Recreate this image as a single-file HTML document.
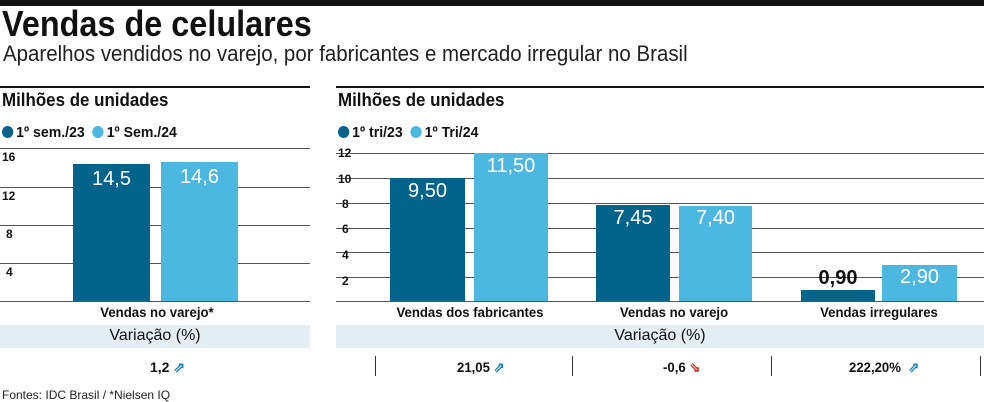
<!DOCTYPE html>
<html><head><meta charset="utf-8"><style>
body{margin:0;width:984px;height:402px;background:#fff;position:relative;overflow:hidden;font-family:"Liberation Sans",sans-serif;color:#111}
.a{position:absolute;white-space:nowrap}
.s{transform:scaleX(0.94);transform-origin:left top}
.c{transform:scaleX(0.94);transform-origin:center top}
.g{position:absolute;height:1px;background:#555}
.b{position:absolute}
.d{background:#03638b}.l{background:#4cb8e0}
.v{color:#fff;font-size:20px;text-align:center}
.t{font-size:12px;font-weight:bold}
.dot{display:inline-block;width:12px;height:12px;border-radius:50%;vertical-align:-1px;margin-right:3px}
.sep{position:absolute;width:1px;height:20px;background:#333;top:356px}
.up{color:#1a8ab8;font-weight:bold}.dn{color:#d9342b;font-weight:bold}
</style></head><body>
<div class="b" style="left:0;top:0;width:984px;height:6px;background:#111"></div>
<div class="a" style="left:2px;top:3px;font-size:36px;font-weight:bold;transform:scaleX(0.9);transform-origin:left top">Vendas de celulares</div>
<div class="a" style="left:3px;top:41px;font-size:22px;color:#222;transform:scaleX(0.93);transform-origin:left top">Aparelhos vendidos no varejo, por fabricantes e mercado irregular no Brasil</div>

<div class="b" style="left:0;top:86px;width:310px;height:2px;background:#111"></div>
<div class="b" style="left:336px;top:86px;width:648px;height:2px;background:#111"></div>
<div class="a s" style="left:2px;top:90px;font-size:18px;font-weight:bold">Milhões de unidades</div>
<div class="a s" style="left:338px;top:90px;font-size:18px;font-weight:bold">Milhões de unidades</div>
<div class="a s" style="left:2px;top:124px;font-size:15px;font-weight:bold"><span class="dot d"></span>1º sem./23 &nbsp;<span class="dot l"></span>1º Sem./24</div>
<div class="a s" style="left:338px;top:124px;font-size:15px;font-weight:bold"><span class="dot d"></span>1º tri/23 &nbsp;<span class="dot l"></span>1º Tri/24</div>

<div class="g" style="left:0;width:310px;top:148px"></div>
<div class="g" style="left:0;width:310px;top:187px"></div>
<div class="g" style="left:0;width:310px;top:225px"></div>
<div class="g" style="left:0;width:310px;top:263px"></div>
<div class="g" style="left:0;width:310px;top:301px"></div>
<div class="a t" style="left:2px;top:150px">16</div>
<div class="a t" style="left:2px;top:189px">12</div>
<div class="a t" style="left:6px;top:227px">8</div>
<div class="a t" style="left:6px;top:265px">4</div>
<div class="b d v" style="left:73px;top:164px;width:77px;height:137px;line-height:30px">14,5</div>
<div class="b l v" style="left:161px;top:162px;width:77px;height:139px;line-height:30px">14,6</div>
<div class="a c" style="left:52px;width:210px;text-align:center;top:304px;font-size:14px;font-weight:bold">Vendas no varejo*</div>
<div class="b" style="left:0;top:325px;width:310px;height:23px;background:#e4eef5"></div>
<div class="a" style="left:0;width:310px;text-align:center;top:327px;font-size:16px">Variação (%)</div>
<div class="a" style="left:150px;top:359px;font-size:14px;font-weight:bold">1,2 <span class="up">⇗</span></div>

<div class="g" style="left:336px;width:648px;top:153px"></div>
<div class="g" style="left:336px;width:648px;top:178px"></div>
<div class="g" style="left:336px;width:648px;top:203px"></div>
<div class="g" style="left:336px;width:648px;top:228px"></div>
<div class="g" style="left:336px;width:648px;top:252px"></div>
<div class="g" style="left:336px;width:648px;top:277px"></div>
<div class="g" style="left:336px;width:648px;top:301px"></div>
<div class="a t" style="left:338px;top:146px">12</div>
<div class="a t" style="left:338px;top:172px">10</div>
<div class="a t" style="left:342px;top:197px">8</div>
<div class="a t" style="left:342px;top:222px">6</div>
<div class="a t" style="left:342px;top:248px">4</div>
<div class="a t" style="left:342px;top:274px">2</div>
<div class="b d v" style="left:390px;top:178px;width:75px;height:123px;line-height:26px">9,50</div>
<div class="b l v" style="left:474px;top:153px;width:74px;height:148px;line-height:26px">11,50</div>
<div class="b d v" style="left:596px;top:205px;width:74px;height:96px;line-height:26px">7,45</div>
<div class="b l v" style="left:679px;top:206px;width:73px;height:95px;line-height:24px">7,40</div>
<div class="b d" style="left:801px;top:290px;width:74px;height:11px"></div>
<div class="a" style="left:801px;width:74px;text-align:center;top:267px;font-size:20px;font-weight:bold">0,90</div>
<div class="b l v" style="left:882px;top:265px;width:75px;height:36px;line-height:24px">2,90</div>
<div class="a c" style="left:380px;width:180px;text-align:center;top:304px;font-size:14px;font-weight:bold">Vendas dos fabricantes</div>
<div class="a c" style="left:584px;width:180px;text-align:center;top:304px;font-size:14px;font-weight:bold">Vendas no varejo</div>
<div class="a c" style="left:789px;width:180px;text-align:center;top:304px;font-size:14px;font-weight:bold">Vendas irregulares</div>
<div class="b" style="left:336px;top:325px;width:648px;height:23px;background:#e4eef5"></div>
<div class="a" style="left:336px;width:648px;text-align:center;top:327px;font-size:16px">Variação (%)</div>
<div class="sep" style="left:375px"></div>
<div class="sep" style="left:572px"></div>
<div class="sep" style="left:771px"></div>
<div class="sep" style="left:980px"></div>
<div class="a s" style="left:457px;top:359px;font-size:14px;font-weight:bold">21,05 <span class="up">⇗</span></div>
<div class="a s" style="left:663px;top:359px;font-size:14px;font-weight:bold">-0,6 <span class="dn">⇘</span></div>
<div class="a s" style="left:849px;top:359px;font-size:14px;font-weight:bold">222,20% &nbsp;<span class="up">⇗</span></div>

<div class="a" style="left:2px;top:388px;font-size:12px;color:#222">Fontes: IDC Brasil / *Nielsen IQ</div>
</body></html>
